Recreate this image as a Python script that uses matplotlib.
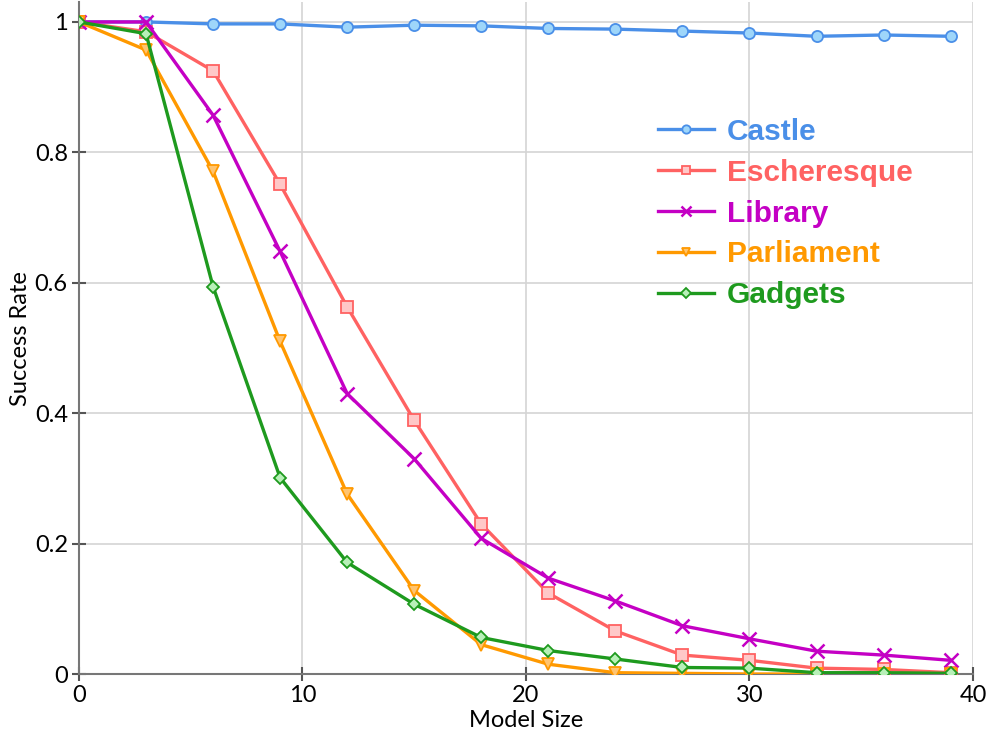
import matplotlib
matplotlib.use("Agg")
import matplotlib.pyplot as plt

model_size = [0, 3, 6, 9, 12, 15, 18, 21, 24, 27, 30, 33, 36, 39]
castle = [1.0, 1.0, 0.997, 0.997, 0.992, 0.995, 0.994, 0.990, 0.989, 0.986, 0.983, 0.978, 0.980, 0.978]
escheresque = [1.0, 0.985, 0.925, 0.751, 0.563, 0.389, 0.230, 0.124, 0.066, 0.029, 0.021, 0.009, 0.007, 0.002]
library = [1.0, 1.0, 0.857, 0.648, 0.430, 0.330, 0.208, 0.147, 0.112, 0.074, 0.054, 0.035, 0.029, 0.021]
parliament = [1.0, 0.957, 0.771, 0.510, 0.276, 0.128, 0.045, 0.015, 0.002, 0.001, 0.0, 0.0, 0.0, 0.0]
gadgets = [1.0, 0.982, 0.594, 0.301, 0.171, 0.107, 0.056, 0.036, 0.023, 0.010, 0.009, 0.002, 0.002, 0.001]

series = [
    ("Castle", castle, "#4a8fe8", "#9ed6fa", "o"),
    ("Escheresque", escheresque, "#ff6262", "#ffc8c8", "s"),
    ("Library", library, "#c400c4", "#c400c4", "x"),
    ("Parliament", parliament, "#ff9900", "#ffc470", "v"),
    ("Gadgets", gadgets, "#1e9a1e", "#b8f0b8", "D"),
]

fig = plt.figure(figsize=(9.91, 7.45), dpi=100)
ax = fig.add_axes([0.0797, 0.0953, 0.9021, 0.9015])

draw_order = [0, 3, 4, 1, 2]
handles = {}
for i in draw_order:
    name, vals, lc, fc, mk = series[i]
    ms = 8 if mk != "x" else 10
    if mk == "D":
        ms = 6.5
    h, = ax.plot(model_size, vals, color=lc, lw=2.4, marker=mk, ms=ms,
                 markerfacecolor=fc, markeredgecolor=lc, markeredgewidth=1.3 if mk != "x" else 1.8,
                 label=name, zorder=3 + i * 0.1)
    handles[name] = h

ax.set_xlim(0, 40)
ax.set_ylim(0, 1.03)
ax.set_xticks([0, 10, 20, 30, 40])
ax.set_yticks([0, 0.2, 0.4, 0.6, 0.8, 1.0])
ax.set_yticklabels(["0", "0.2", "0.4", "0.6", "0.8", "1"])
ax.grid(True, color="#d4d4d4", lw=1.2)
ax.set_axisbelow(True)
for s in ["top", "right"]:
    ax.spines[s].set_visible(False)
for s in ["left", "bottom"]:
    ax.spines[s].set_color("#777777")
    ax.spines[s].set_linewidth(1.5)
ax.tick_params(direction="inout", length=10, width=1.5, color="#555555",
               labelsize=17, pad=3)
for lab in ax.get_xticklabels() + ax.get_yticklabels():
    lab.set_family("Lato")
ax.set_xlabel("Model Size", fontsize=17, family="Lato", labelpad=3)
ax.set_ylabel("Success Rate", fontsize=17, family="Lato", labelpad=3)

names = [s[0] for s in series]
leg = ax.legend([handles[n] for n in names], names, loc="upper left",
                bbox_to_anchor=(0.648, 0.828), frameon=False, borderpad=0, borderaxespad=0,
                prop={"family": "Liberation Sans", "weight": "bold", "size": 21.5},
                handlelength=1.85, handletextpad=0.45, labelspacing=0.43, markerscale=0.75)
for t, s in zip(leg.get_texts(), series):
    t.set_color(s[2])

fig.savefig("out.png", dpi=100)
